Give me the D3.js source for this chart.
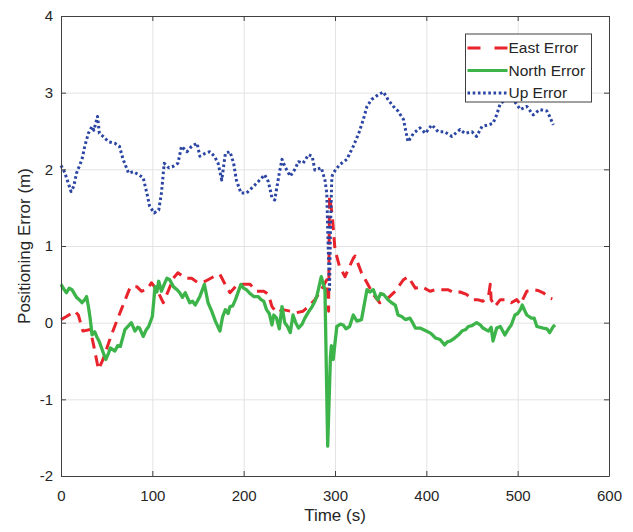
<!DOCTYPE html>
<html>
<head>
<meta charset="utf-8">
<script src="https://cdn.jsdelivr.net/npm/d3@7"></script>
<style>
  body { margin: 0; background: #fff; }
  svg text { font-family: "Liberation Sans", Arial, sans-serif; fill: #262626; }
</style>
</head>
<body>
<div id="chart"></div>
<script>
// values
const eastTime = [0, 6, 15, 19, 24, 32, 36, 41, 46, 54, 61, 66, 71, 76, 83, 88, 94, 99, 105, 112, 118, 123, 128, 136, 143, 150, 158, 167, 174, 181, 185, 191, 198, 207, 214, 222, 227, 231, 236, 243, 251, 258, 265, 271, 278, 285, 291, 293, 294, 297, 300, 305, 311, 320, 322, 329, 335, 342, 349, 358, 366, 375, 380, 388, 395, 404, 410, 418, 424, 430, 437, 444, 450, 456, 462, 468, 470, 471, 475, 481, 487, 493, 499, 503, 510, 517, 522, 528, 535, 538];
const eastError = [0.04, 0.08, 0.15, 0.10, -0.11, -0.09, -0.31, -0.61, -0.48, -0.20, 0.02, 0.17, 0.32, 0.47, 0.47, 0.41, 0.43, 0.52, 0.43, 0.26, 0.43, 0.58, 0.65, 0.58, 0.58, 0.52, 0.54, 0.60, 0.63, 0.47, 0.39, 0.47, 0.50, 0.50, 0.41, 0.41, 0.37, 0.21, 0.13, 0.17, 0.15, 0.13, 0.15, 0.21, 0.30, 0.43, 0.56, 0.15, 1.65, 1.40, 0.95, 0.73, 0.60, 0.84, 0.87, 0.65, 0.52, 0.37, 0.26, 0.32, 0.41, 0.56, 0.60, 0.45, 0.47, 0.41, 0.43, 0.43, 0.43, 0.39, 0.40, 0.37, 0.30, 0.30, 0.28, 0.34, 0.50, 0.30, 0.21, 0.30, 0.30, 0.26, 0.30, 0.24, 0.41, 0.43, 0.42, 0.39, 0.32, 0.31];

const northTime = [0, 3, 6, 9, 12, 17, 20, 23, 26, 28, 30, 32, 34, 37, 39, 42, 45, 49, 52, 54, 59, 62, 65, 70, 74, 77, 81, 84, 86, 90, 93, 96, 100, 103, 105, 107, 110, 113, 116, 119, 123, 127, 130, 133, 136, 141, 144, 147, 152, 157, 161, 165, 169, 174, 177, 180, 183, 185, 188, 191, 197, 200, 203, 207, 211, 216, 219, 222, 225, 228, 231, 233, 236, 239, 242, 245, 248, 251, 254, 257, 260, 264, 267, 271, 275, 278, 280, 285, 289, 292, 295, 296, 298, 302, 306, 309, 312, 316, 320, 324, 329, 335, 338, 342, 345, 347, 350, 353, 358, 362, 366, 369, 373, 377, 382, 385, 388, 393, 400, 405, 410, 415, 420, 423, 426, 430, 433, 436, 439, 443, 446, 450, 455, 459, 462, 468, 471, 473, 477, 481, 486, 490, 493, 497, 500, 503, 505, 508, 510, 515, 518, 521, 528, 532, 535, 539, 541];
const northError = [0.50, 0.44, 0.39, 0.45, 0.43, 0.33, 0.30, 0.26, 0.30, 0.34, 0.21, 0.05, -0.16, -0.12, -0.18, -0.25, -0.35, -0.48, -0.40, -0.33, -0.37, -0.30, -0.31, -0.09, -0.04, 0.00, -0.11, -0.06, -0.07, -0.18, -0.10, -0.05, 0.08, 0.47, 0.40, 0.54, 0.41, 0.50, 0.58, 0.56, 0.47, 0.43, 0.39, 0.33, 0.39, 0.26, 0.28, 0.23, 0.34, 0.50, 0.26, 0.15, 0.02, -0.11, 0.08, 0.17, 0.12, 0.21, 0.22, 0.30, 0.50, 0.45, 0.43, 0.38, 0.34, 0.34, 0.30, 0.28, 0.17, 0.12, -0.03, 0.10, 0.06, -0.08, 0.21, 0.00, -0.05, -0.13, 0.10, 0.00, -0.07, -0.02, 0.06, 0.14, 0.21, 0.28, 0.34, 0.60, 0.43, -1.61, -0.45, -0.30, -0.48, -0.05, -0.02, -0.03, -0.08, -0.05, 0.10, 0.02, 0.04, 0.43, 0.40, 0.43, 0.33, 0.30, 0.38, 0.37, 0.30, 0.26, 0.23, 0.10, 0.08, 0.04, 0.06, 0.00, -0.07, -0.07, -0.11, -0.14, -0.20, -0.22, -0.29, -0.25, -0.24, -0.21, -0.18, -0.15, -0.11, -0.09, -0.05, -0.04, 0.00, -0.03, -0.07, -0.11, -0.06, -0.24, -0.07, -0.05, -0.16, -0.08, -0.03, 0.10, 0.12, 0.17, 0.23, 0.15, 0.10, 0.06, 0.06, -0.05, -0.07, -0.08, -0.13, -0.05, -0.03];

const upTime = [0, 4, 8, 11, 14, 17, 23, 26, 30, 34, 36, 40, 42, 46, 52, 59, 64, 68, 74, 79, 85, 90, 94, 97, 102, 107, 110, 113, 118, 123, 128, 132, 138, 143, 149, 152, 158, 163, 168, 172, 176, 180, 185, 189, 192, 197, 203, 211, 216, 223, 227, 231, 234, 239, 242, 245, 251, 256, 260, 265, 271, 275, 278, 285, 289, 291, 292.5, 294, 295, 296.5, 298, 305, 313, 320, 326, 331, 335, 340, 347, 353, 358, 364, 369, 375, 378, 380, 386, 393, 399, 406, 413, 420, 428, 437, 442, 450, 455, 461, 468, 473, 477, 481, 488, 495, 503, 510, 517, 524, 532, 535, 539];
const upError = [2.05, 1.96, 1.82, 1.71, 1.78, 1.95, 2.13, 2.30, 2.47, 2.56, 2.51, 2.69, 2.47, 2.43, 2.36, 2.34, 2.30, 2.13, 1.95, 1.97, 1.93, 1.89, 1.69, 1.52, 1.43, 1.47, 1.69, 2.08, 2.02, 2.04, 2.08, 2.30, 2.23, 2.30, 2.34, 2.17, 2.21, 2.23, 2.17, 2.08, 1.86, 2.21, 2.23, 2.08, 1.86, 1.69, 1.69, 1.78, 1.84, 1.93, 1.84, 1.63, 1.60, 1.95, 2.13, 2.04, 1.91, 2.00, 2.10, 2.08, 2.19, 2.17, 1.99, 2.02, 1.86, 1.69, 1.00, 0.43, 1.20, 1.90, 1.95, 2.06, 2.13, 2.30, 2.47, 2.65, 2.82, 2.91, 2.97, 3.01, 2.91, 2.82, 2.76, 2.65, 2.47, 2.36, 2.47, 2.54, 2.47, 2.58, 2.49, 2.49, 2.43, 2.52, 2.47, 2.49, 2.43, 2.56, 2.58, 2.60, 2.71, 2.86, 2.91, 2.91, 2.78, 2.82, 2.71, 2.78, 2.76, 2.69, 2.58];

const xTicks = [0, 100, 200, 300, 400, 500, 600];
const yTicks = [-2, -1, 0, 1, 2, 3, 4];

const series = [
  { name: "East Error", t: eastTime, v: eastError, color: "#e8232b", dash: "11,7", legendDash: "13,14" },
  { name: "North Error", t: northTime, v: northError, color: "#3cb44a", dash: null, legendDash: null },
  { name: "Up Error", t: upTime, v: upError, color: "#2b45a3", dash: "2.6,2.6", legendDash: "2.6,2.6" },
];

const W = 633, H = 532;
const margin = { top: 16, right: 24, bottom: 56, left: 61 };
const width = W - margin.left - margin.right;
const height = H - margin.top - margin.bottom;

const x = d3.scaleLinear().domain([0, 600]).range([0, width]);
const y = d3.scaleLinear().domain([-2, 4]).range([height, 0]);

const svg = d3.select("#chart").append("svg")
  .attr("width", W)
  .attr("height", H);

const g = svg.append("g")
  .attr("transform", `translate(${margin.left},${margin.top})`);

// grid
g.append("g")
  .attr("transform", `translate(0,${height})`)
  .call(d3.axisBottom(x).tickValues(xTicks).tickSize(-height).tickFormat(""))
  .call(a => a.select(".domain").remove())
  .call(a => a.selectAll("line").attr("stroke", "#e3e3e3"));
g.append("g")
  .call(d3.axisLeft(y).tickValues(yTicks).tickSize(-width).tickFormat(""))
  .call(a => a.select(".domain").remove())
  .call(a => a.selectAll("line").attr("stroke", "#e3e3e3"));

const line = d3.line()
  .x(d => x(d[0]))
  .y(d => y(d[1]));

g.append("g")
  .selectAll("path")
  .data(series)
  .join("path")
  .attr("fill", "none")
  .attr("stroke", d => d.color)
  .attr("stroke-width", d => d.dash ? 3 : 3.3)
  .attr("stroke-linejoin", "round")
  .attr("stroke-dasharray", d => d.dash)
  .attr("d", d => line(d.t.map((t, i) => [t, d.v[i]])));

// axes, ticks pointing inward like matlab
const fmt = d => String(d);
const axisStyle = a => {
  a.select(".domain").attr("stroke", "#404040");
  a.selectAll(".tick line").attr("stroke", "#404040");
  a.selectAll("text").attr("font-size", 15).attr("fill", "#262626");
};
g.append("g")
  .attr("transform", `translate(0,${height})`)
  .call(d3.axisBottom(x).tickValues(xTicks).tickFormat(fmt).tickSizeInner(-5).tickSizeOuter(0).tickPadding(14))
  .call(axisStyle);
g.append("g")
  .call(d3.axisLeft(y).tickValues(yTicks).tickFormat(fmt).tickSizeInner(-5).tickSizeOuter(0).tickPadding(8))
  .call(axisStyle);
g.append("g")
  .call(d3.axisTop(x).tickValues(xTicks).tickSizeInner(-5).tickSizeOuter(0).tickFormat(""))
  .call(axisStyle);
g.append("g")
  .attr("transform", `translate(${width},0)`)
  .call(d3.axisRight(y).tickValues(yTicks).tickSizeInner(-5).tickSizeOuter(0).tickFormat(""))
  .call(axisStyle);

// axis titles
svg.append("text")
  .attr("x", margin.left + width / 2)
  .attr("y", 521)
  .attr("text-anchor", "middle")
  .attr("font-size", 17)
  .text("Time (s)");
svg.append("text")
  .attr("transform", `translate(30,${margin.top + height / 2}) rotate(-90)`)
  .attr("text-anchor", "middle")
  .attr("font-size", 17)
  .text("Positioning Error (m)");

// legend
const legend = svg.append("g").attr("transform", "translate(465.5,34)");
legend.append("rect")
  .attr("width", 126)
  .attr("height", 68)
  .attr("fill", "#fff")
  .attr("stroke", "#404040")
  .attr("stroke-width", 1);
const item = legend.selectAll(".item")
  .data(series)
  .join("g")
  .attr("class", "item")
  .attr("transform", (d, i) => `translate(0,${14 + i * 22.5})`);
item.append("line")
  .attr("x1", 2).attr("x2", 42)
  .attr("stroke", d => d.color)
  .attr("stroke-width", 3)
  .attr("stroke-dasharray", d => d.legendDash);
item.append("text")
  .attr("x", 43)
  .attr("dy", "0.35em")
  .attr("font-size", 15.5)
  .text(d => d.name);
</script>
</body>
</html>
